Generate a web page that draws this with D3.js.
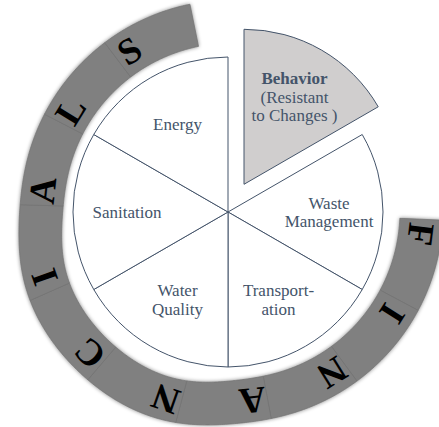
<!DOCTYPE html>
<html>
<head>
<meta charset="utf-8">
<script src="https://cdn.jsdelivr.net/npm/d3@7"></script>
<style>
  html, body { margin: 0; padding: 0; background: #ffffff; }
  svg { display: block; }
  .serif { font-family: "Liberation Serif", "Times New Roman", Tinos, serif; }
</style>
</head>
<body>
<svg id="chart" width="439" height="427"></svg>
<script>
// ---- data ----
const categories = ["Behavior", "Waste Management", "Transportation", "Water Quality", "Sanitation", "Energy"];
const values = [1, 1, 1, 1, 1, 1];
const highlighted = [true, false, false, false, false, false];
const labelLines = [
  ["Behavior", "(Resistant", "to Changes )"],
  ["Waste", "Management"],
  ["Transport-", "ation"],
  ["Water", "Quality"],
  ["Sanitation"],
  ["Energy"]
];
const ringLetters = ["F", "I", "N", "A", "N", "C", "I", "A", "L", "S"];

// ---- layout ----
const W = 439, H = 427;
const cx = 228, cy = 212, R = 155;
const explode = 32;
const ringCx = 232, ringCy = 211, ringInner = 168, ringOuter = 211;
const ringStart = 92.5, ringEnd = 348.5;
const textColor = "#44546a";
const rad = d => d * Math.PI / 180;
// the ring bulges slightly outward in its lower-left part
const bulge = a => 11 * Math.exp(-Math.pow((a - 224) / 38, 4));

const svg = d3.select("#chart");
svg.append("rect").attr("width", W).attr("height", H).attr("fill", "#fff");

const defs = svg.append("defs");
const f = defs.append("filter").attr("id", "blur").attr("x", "-20%").attr("y", "-20%").attr("width", "140%").attr("height", "140%");
f.append("feGaussianBlur").attr("stdDeviation", 2.2);

// ---- outer ring ----
const ring = svg.append("g").attr("transform", `translate(${ringCx},${ringCy})`);
const seg = d3.scaleBand().domain(d3.range(ringLetters.length)).range([ringStart, ringEnd]);
const ringArea = d3.areaRadial()
  .angle(a => rad(a))
  .innerRadius(a => ringInner + bulge(a))
  .outerRadius(a => ringOuter + bulge(a));
const samples = (a0, a1) => d3.range(a0, a1, 0.5).concat([a1]);

ring.append("path")
  .attr("d", ringArea(samples(ringStart, ringEnd)))
  .attr("fill", "#000").attr("opacity", 0.55).attr("filter", "url(#blur)");

ring.selectAll("path.seg").data(ringLetters).join("path")
  .attr("class", "seg")
  .attr("d", (d, i) => ringArea(samples(seg(i), seg(i) + seg.bandwidth())) + "Z")
  .attr("fill", "#808080")
  .attr("stroke", "#747474").attr("stroke-width", 0.7);

const letterR = 190;
ring.selectAll("text.letter").data(ringLetters).join("text")
  .attr("class", "letter serif")
  .attr("transform", (d, i) => {
    const a = seg(i) + 4.5;
    const r = letterR + bulge(a);
    const x = r * Math.sin(rad(a)), y = -r * Math.cos(rad(a));
    return `translate(${x},${y}) rotate(${a})`;
  })
  .attr("text-anchor", "middle")
  .attr("dy", "0.33em")
  .attr("font-size", 37)
  .attr("font-weight", "bold")
  .attr("fill", "#000")
  .text(d => d);

// ---- pie ----
const pie = d3.pie().sort(null).value(d => d)(values);
const arc = d3.arc().innerRadius(0).outerRadius(R);
const labelArc = d3.arc().innerRadius(0).outerRadius(2 * 101);

const g = svg.append("g").attr("transform", `translate(${cx},${cy})`);
const slices = g.selectAll("g.slice").data(pie).join("g")
  .attr("class", "slice")
  .attr("transform", (d, i) => {
    if (!highlighted[i]) return null;
    const a = (d.startAngle + d.endAngle) / 2;
    return `translate(${explode * Math.sin(a)},${-explode * Math.cos(a)})`;
  });

slices.append("path")
  .attr("d", arc)
  .attr("fill", (d, i) => highlighted[i] ? "#d0cece" : "#ffffff")
  .attr("stroke", textColor)
  .attr("stroke-width", 1);

const lh = 18.5;
slices.append("text")
  .attr("class", "serif")
  .attr("transform", d => `translate(${labelArc.centroid(d)})`)
  .attr("text-anchor", "middle")
  .attr("font-size", 17)
  .attr("fill", textColor)
  .each(function (d, i) {
    const lines = labelLines[i];
    const t = d3.select(this);
    lines.forEach((ln, k) => {
      t.append("tspan")
        .attr("x", 0)
        .attr("y", (k - (lines.length - 1) / 2) * lh)
        .attr("dy", "0.35em")
        .attr("font-weight", highlighted[i] && k === 0 ? "bold" : "normal")
        .text(ln);
    });
  });
</script>
</body>
</html>
